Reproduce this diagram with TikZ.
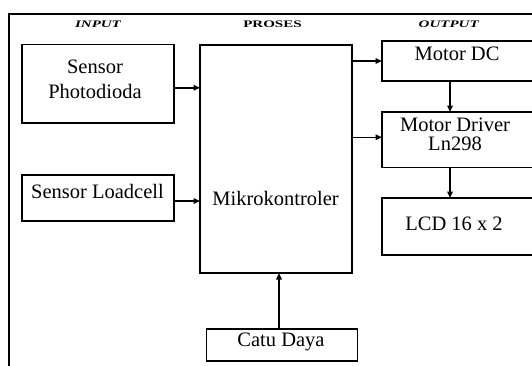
\documentclass[tikz,border=0pt]{standalone}
\usepackage{fontspec}
\setmainfont{Liberation Serif}
\usetikzlibrary{arrows.meta}
\begin{document}
\begin{tikzpicture}[x=1pt,y=-1pt,
  box/.style={draw=black,line width=1.8pt,inner sep=0pt,outer sep=0pt},
  lbl/.style={inner sep=0pt,outer sep=0pt,font=\fontsize{20.5}{25}\selectfont,align=center},
  hdr/.style={inner sep=0pt,outer sep=0pt,anchor=base},
  arr/.style={line width=1.5pt,-{Triangle[length=6.5pt,width=5.5pt]}},
  frame/.style={draw=black,line width=1.9pt}]
\useasboundingbox[fill=white] (0,0) rectangle (532,365);
\draw[frame] (9,14) rectangle (570,400);
% headers
\node[hdr] (hin) at (98,27.3) {\scalebox{1.5}[1]{\fontsize{10}{10}\selectfont\bfseries\itshape INPUT}};
\node[hdr] (hpr) at (272.5,27.3) {\scalebox{1.5}[1]{\fontsize{10}{10}\selectfont\bfseries PROSES}};
\node[hdr] (hout) at (448.7,27.3) {\scalebox{1.5}[1]{\fontsize{10}{10}\selectfont\bfseries\itshape OUTPUT}};
% boxes
\node[box,minimum width=152pt,minimum height=78.5pt] (pd) at (98,83.75) {};
\node[box,minimum width=152pt,minimum height=46pt] (lc) at (98,198) {};
\node[box,minimum width=152pt,minimum height=228pt] (mk) at (276,159) {};
\node[box,minimum width=178pt,minimum height=40pt] (md) at (471,61) {};
\node[box,minimum width=178pt,minimum height=55.5pt] (dr) at (471,139.75) {};
\node[box,minimum width=178pt,minimum height=57pt] (lcd) at (471,226.5) {};
\node[box,minimum width=151pt,minimum height=32pt] (cd) at (282,345) {};
% texts
\node[lbl,anchor=base] (tpd1) at (95,73) {Sensor};
\node[lbl,anchor=base] (tpd2) at (95,98) {Photodioda};
\node[lbl,anchor=base] (tlc) at (97.5,198) {Sensor Loadcell};
\node[lbl,anchor=base] (tmk) at (275.6,205) {Mikrokontroler};
\node[lbl,anchor=base] (tmd) at (457,60) {Motor DC};
\node[lbl,anchor=base] (tdr1) at (455,131) {Motor Driver};
\node[lbl,anchor=base] (tdr2) at (455,150) {Ln298};
\node[lbl,anchor=base] (tlcd) at (454,230) {LCD 16 x 2};
\node[lbl,anchor=base] (tcd) at (281,346) {Catu Daya};
% connectors
\coordinate (vx) at (450,0);
\draw[arr] ([yshift=-4pt]pd.east) -- ([yshift=-4pt]pd.east -| mk.west);
\draw[arr] ([yshift=-3pt]lc.east) -- ([yshift=-3pt]lc.east -| mk.west);
\draw[arr] (md.west -| mk.east) -- (md.west);
\draw[arr] ([yshift=2.5pt]dr.west -| mk.east) -- ([yshift=2.5pt]dr.west);
\draw[arr] (md.south -| vx) -- (dr.north -| vx);
\draw[arr] (dr.south -| vx) -- (lcd.north -| vx);
\draw[arr] ([xshift=-3pt]cd.north) -- ([xshift=-3pt]cd.north |- mk.south);
\end{tikzpicture}
\end{document}
